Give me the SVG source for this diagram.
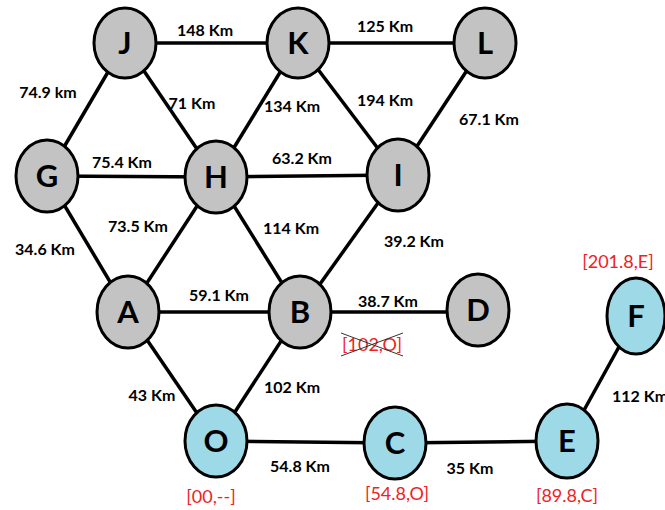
<svg xmlns="http://www.w3.org/2000/svg" width="665" height="510" viewBox="0 0 665 510">
  <style>
    .edge { stroke: #000; stroke-width: 3.5; stroke-linecap: butt; }
    .node ellipse { stroke: #000; stroke-width: 3; }
    .gray ellipse { fill: #C3C3C3; }
    .blue ellipse { fill: #9ED9E8; }
    .nlabel { font-family: Lato, "Liberation Sans", sans-serif; font-weight: 700; font-size: 31px; fill: #000; text-anchor: middle; }
    .dist { font-family: Lato, "Liberation Sans", sans-serif; font-weight: 700; font-size: 16px; fill: #000; text-anchor: middle; }
    .cost { font-family: Lato, "Liberation Sans", sans-serif; font-weight: 400; font-size: 18px; fill: #EE2222; text-anchor: middle; }
  </style>
  <rect width="665" height="510" fill="#fff"/>

  <g id="connectors">
    <line class="edge" x1="125" y1="43" x2="298" y2="43"/>
    <line class="edge" x1="298" y1="43" x2="485" y2="43"/>
    <line class="edge" x1="125" y1="43" x2="47" y2="176"/>
    <line class="edge" x1="125" y1="43" x2="216" y2="177"/>
    <line class="edge" x1="298" y1="43" x2="216" y2="177"/>
    <line class="edge" x1="298" y1="43" x2="398" y2="175"/>
    <line class="edge" x1="485" y1="43" x2="398" y2="175"/>
    <line class="edge" x1="47" y1="176" x2="216" y2="177"/>
    <line class="edge" x1="216" y1="177" x2="398" y2="175"/>
    <line class="edge" x1="47" y1="176" x2="128" y2="312"/>
    <line class="edge" x1="216" y1="177" x2="128" y2="312"/>
    <line class="edge" x1="216" y1="177" x2="300" y2="312"/>
    <line class="edge" x1="398" y1="175" x2="300" y2="312"/>
    <line class="edge" x1="128" y1="312" x2="300" y2="312"/>
    <line class="edge" x1="300" y1="312" x2="478" y2="312"/>
    <line class="edge" x1="128" y1="312" x2="216" y2="441"/>
    <line class="edge" x1="300" y1="312" x2="216" y2="441"/>
    <line class="edge" x1="216" y1="441" x2="395" y2="443"/>
    <line class="edge" x1="395" y1="443" x2="567" y2="441"/>
    <line class="edge" x1="567" y1="441" x2="636" y2="316"/>
  </g>

  <g id="distances">
    <text class="dist" x="205" y="36">148 Km</text>
    <text class="dist" x="385" y="32">125 Km</text>
    <text class="dist" x="48" y="98">74.9 km</text>
    <text class="dist" x="192" y="109">71 Km</text>
    <text class="dist" x="292" y="112">134 Km</text>
    <text class="dist" x="385" y="106">194 Km</text>
    <text class="dist" x="489" y="125">67.1 Km</text>
    <text class="dist" x="122" y="168">75.4 Km</text>
    <text class="dist" x="302" y="164">63.2 Km</text>
    <text class="dist" x="138" y="232">73.5 Km</text>
    <text class="dist" x="291" y="234">114 Km</text>
    <text class="dist" x="414" y="247">39.2 Km</text>
    <text class="dist" x="45" y="255">34.6 Km</text>
    <text class="dist" x="219" y="301">59.1 Km</text>
    <text class="dist" x="388" y="307">38.7 Km</text>
    <text class="dist" x="152" y="401">43 Km</text>
    <text class="dist" x="292" y="393">102 Km</text>
    <text class="dist" x="300" y="472">54.8 Km</text>
    <text class="dist" x="470" y="474">35 Km</text>
    <text class="dist" x="640" y="402">112 Km</text>
  </g>

  <g id="node-J" class="node gray"><ellipse cx="125" cy="43" rx="31" ry="35"/><text class="nlabel" x="125" y="54">J</text></g>
  <g id="node-K" class="node gray"><ellipse cx="298" cy="43" rx="31" ry="35"/><text class="nlabel" x="298" y="54">K</text></g>
  <g id="node-L" class="node gray"><ellipse cx="485" cy="43" rx="31" ry="35"/><text class="nlabel" x="485" y="54">L</text></g>
  <g id="node-G" class="node gray"><ellipse cx="47" cy="176" rx="31" ry="36"/><text class="nlabel" x="47" y="187">G</text></g>
  <g id="node-H" class="node gray"><ellipse cx="216" cy="177" rx="31" ry="36"/><text class="nlabel" x="216" y="188">H</text></g>
  <g id="node-I" class="node gray"><ellipse cx="398" cy="175" rx="31" ry="36"/><text class="nlabel" x="398" y="186">I</text></g>
  <g id="node-A" class="node gray"><ellipse cx="128" cy="312" rx="31" ry="36"/><text class="nlabel" x="128" y="323">A</text></g>
  <g id="node-B" class="node gray"><ellipse cx="300" cy="312" rx="31" ry="36"/><text class="nlabel" x="300" y="323">B</text></g>
  <g id="node-D" class="node gray"><ellipse cx="478" cy="310" rx="31" ry="36"/><text class="nlabel" x="478" y="321">D</text></g>
  <g id="node-O" class="node blue"><ellipse cx="216" cy="441" rx="31" ry="36"/><text class="nlabel" x="216" y="452">O</text></g>
  <g id="node-C" class="node blue"><ellipse cx="395" cy="443" rx="31" ry="36"/><text class="nlabel" x="395" y="454">C</text></g>
  <g id="node-E" class="node blue"><ellipse cx="567" cy="441" rx="31" ry="37"/><text class="nlabel" x="567" y="452">E</text></g>
  <g id="node-F" class="node blue"><ellipse cx="636" cy="316" rx="29" ry="38"/><text class="nlabel" x="636" y="327">F</text></g>

  <g id="costs">
    <text class="cost" x="618" y="268">[201.8,E]</text>
    <text class="cost" x="372" y="351">[102,O]</text>
    <line x1="341" y1="333" x2="403" y2="356" stroke="#333" stroke-width="1"/>
    <line x1="341" y1="356" x2="403" y2="333" stroke="#333" stroke-width="1"/>
    <text class="cost" x="211" y="503">[00,--]</text>
    <text class="cost" x="397" y="500">[54.8,O]</text>
    <text class="cost" x="567" y="502">[89.8,C]</text>
  </g>
</svg>
